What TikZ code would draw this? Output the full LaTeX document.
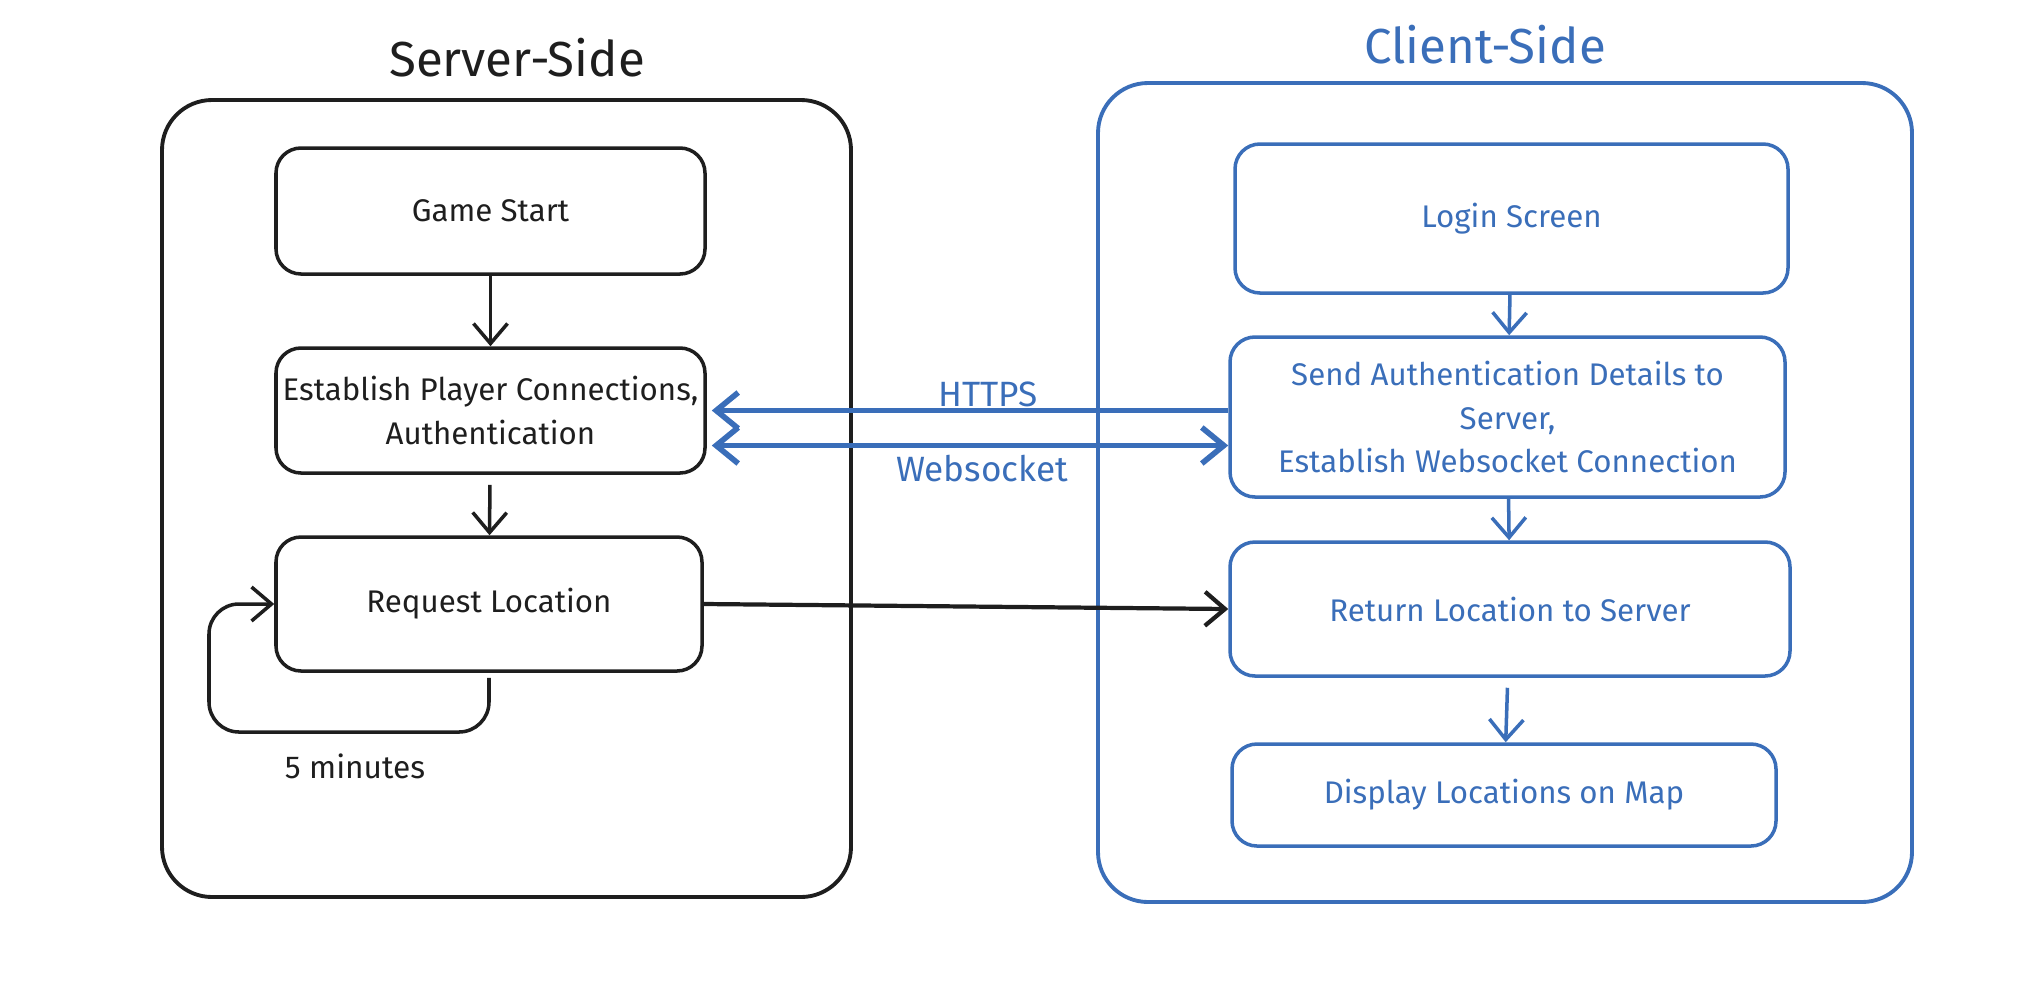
\documentclass[tikz,border=0pt]{standalone}
\usepackage{fontspec}
\setmainfont{Fira Sans}
\usetikzlibrary{arrows.meta}
\definecolor{ink}{RGB}{30,30,30}
\definecolor{cblue}{RGB}{58,110,185}

\begin{document}
\begin{tikzpicture}[
    box/.style={draw, line width=1pt, rounded corners=2.5mm, align=center, inner sep=0pt, font=\fontsize{8.9}{12.5}\selectfont},
    group/.style={draw, line width=1.1pt, rounded corners=5mm},
    title/.style={font=\fontsize{14}{16}\selectfont},
    flow/.style={-{Straight Barb[length=2mm,width=3.4mm]}, line width=1pt},
    link/.style={cblue, line width=1.6pt, -{Straight Barb[length=2.2mm,width=3.6mm]}},
    tag/.style={font=\fontsize{10}{12}\selectfont}
]
    \useasboundingbox (0,0) rectangle (20.38,-10.04);
    % Server side
    \node[title, ink] (ST) at (5.17,-0.58) {Server-Side};
    \node[group, ink, minimum width=6.89cm, minimum height=7.97cm] (S) at (5.065,-4.985) {};
    \node[box, ink, minimum width=4.29cm, minimum height=1.26cm] (GS) at (4.905,-2.11) {Game Start};
    \node[box, ink, minimum width=4.29cm, minimum height=1.25cm] (EP) at (4.905,-4.105) {Establish Player Connections,\\ Authentication};
    \node[box, ink, minimum width=4.26cm, minimum height=1.34cm] (RL) at (4.89,-6.04) {Request Location};
    \draw[flow, ink] (GS) -- (EP);
    \draw[flow, ink, shorten <=1mm] (EP) -- (RL);
    \coordinate (L) at (2.09,-7.32); % loop corner
    \draw[flow, ink, rounded corners=3mm, shorten <=0.5mm] (RL.south) |- (L) |- (RL.west); % 5 minute loop
    \node[ink, font=\fontsize{9}{12}\selectfont] (FM) at (3.55,-7.66) {5 minutes};
    % Client side
    \node[title, cblue] (CT) at (14.85,-0.45) {Client-Side};
    \node[group, cblue, minimum width=8.14cm, minimum height=8.19cm] (C) at (15.05,-4.925) {};
    \node[box, cblue, minimum width=5.53cm, minimum height=1.49cm] (LS) at (15.115,-2.185) {Login Screen};
    \node[box, cblue, minimum width=5.55cm, minimum height=1.60cm] (SA) at (15.075,-4.17) {Send Authentication Details to\\ Server,\\ Establish Websocket Connection};
    \node[box, cblue, minimum width=5.60cm, minimum height=1.34cm] (RS) at (15.1,-6.09) {Return Location to Server};
    \node[box, cblue, minimum width=5.44cm, minimum height=1.02cm] (DL) at (15.04,-7.95) {Display Locations on Map};
    \draw[flow, cblue] (LS) -- (SA);
    \draw[flow, cblue] (SA) -- (RS);
    \draw[flow, cblue, shorten <=1mm] (RS) -- (DL);
    % Between the two sides
    \draw[link] (SA.west |- EP.east) -- ([xshift=0.5mm]EP.east); % HTTPS arrow
    \coordinate (W) at ([xshift=0.5mm,yshift=-3.5mm]EP.east);
    \draw[link, {Straight Barb[length=2.2mm,width=3.6mm]}-{Straight Barb[length=2.2mm,width=3.6mm]}] (W) -- (W -| SA.west); % Websocket arrow
    \node[tag, cblue] (H) at (9.88,-3.94) {HTTPS};
    \node[tag, cblue] (WS) at (9.82,-4.69) {Websocket};
    \draw[flow, ink, line width=1.2pt] (RL.east) -- (RS.west); % location request
\end{tikzpicture}
\end{document}
